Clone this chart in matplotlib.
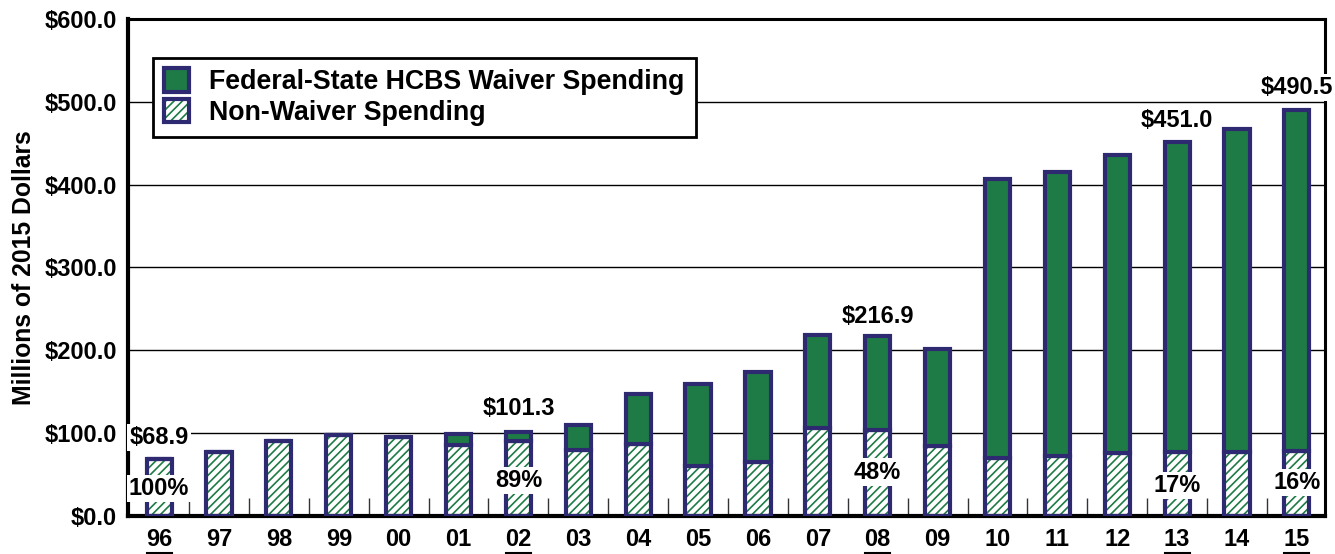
import matplotlib.pyplot as plt
import matplotlib.patches as mpatches
import matplotlib.transforms as mtransforms
import numpy as np

plt.rcParams['font.family'] = ['Liberation Sans', 'DejaVu Sans']
plt.rcParams['font.weight'] = 'bold'
plt.rcParams['hatch.linewidth'] = 1.2

years = ['96', '97', '98', '99', '00', '01', '02', '03', '04', '05',
         '06', '07', '08', '09', '10', '11', '12', '13', '14', '15']
total = [68.9, 77, 90, 98, 95.5, 99, 101.3, 110, 147, 159,
         174, 219, 216.9, 202, 407, 415, 436, 451.0, 467, 490.5]
non_waiver = [68.9, 77, 90, 98, 95.5, 86, 90.2, 80, 87, 60,
              65, 106, 104, 85, 70, 72, 76, 76.7, 77, 78.5]
underlined = ['96', '02', '08', '13', '15']

# labels: (index, text, y position)
value_labels = [(0, '$68.9', 95), (6, '$101.3', 130), (12, '$216.9', 241),
                (17, '$451.0', 478), (19, '$490.5', 517)]
pct_labels = [(0, '100%', 33), (6, '89%', 43), (12, '48%', 53),
              (17, '17%', 37), (19, '16%', 40)]

green = '#1e7b45'
navy = '#2e2a72'

waiver = np.array(total) - np.array(non_waiver)
x = np.arange(len(years))
w = 0.42

fig = plt.figure(figsize=(13.35, 5.54), dpi=100)
ax = fig.add_axes([0.0959, 0.0686, 0.8966, 0.8971])

# hatched non-waiver part
ax.bar(x, non_waiver, w, color='white', edgecolor=green, hatch='////',
       linewidth=0, zorder=2)
ax.bar(x, non_waiver, w, fill=False, edgecolor=navy, linewidth=3, zorder=3)
# waiver part on top
ax.bar(x, waiver, w, bottom=non_waiver, color=green, edgecolor=navy,
       linewidth=3, zorder=3)

ax.set_ylim(0, 600)
ax.set_xlim(-0.52, 19.47)
ax.set_yticks(np.arange(0, 601, 100))
ax.set_yticklabels([f'${v:.1f}' for v in np.arange(0, 601, 100)],
                   fontsize=17, fontweight='bold')
ax.set_xticks(x)
ax.set_xticklabels(years, fontsize=17, fontweight='bold')
ax.tick_params(axis='x', length=0, pad=9)
ax.tick_params(axis='y', direction='in', length=0, pad=8)
ax.set_xticks(x[:-1] + 0.5, minor=True)
ax.tick_params(axis='x', which='minor', direction='in', length=13,
               width=1, color='#333333')

# underline some year labels
trans = mtransforms.blended_transform_factory(ax.transData, ax.transAxes)
for i, yr in enumerate(years):
    if yr in underlined:
        ax.plot([i - 0.21, i + 0.21], [-0.074, -0.074], color='black',
                lw=1.5, transform=trans, clip_on=False)

ax.grid(axis='y', color='black', linewidth=1, zorder=0)
ax.set_axisbelow(True)
for s in ['left', 'bottom']:
    ax.spines[s].set_linewidth(3)
for s in ['top', 'right']:
    ax.spines[s].set_linewidth(2.2)

ax.set_ylabel('Millions of 2015 Dollars', fontsize=17.8, fontweight='bold',
              labelpad=6)

for i, t, y in value_labels + pct_labels:
    ax.text(i, y, t, ha='center', va='center', fontsize=17, fontweight='bold',
            zorder=10, clip_on=False,
            bbox=dict(facecolor='white', edgecolor='none', pad=1.5))

h1 = mpatches.Patch(facecolor=green, edgecolor=navy, linewidth=3)
h2a = mpatches.Patch(facecolor='white', edgecolor=green, hatch='////', linewidth=0)
h2b = mpatches.Patch(fill=False, edgecolor=navy, linewidth=3)
leg = ax.legend([h1, (h2a, h2b)],
                ['Federal-State HCBS Waiver Spending', 'Non-Waiver Spending'],
                loc='upper left', bbox_to_anchor=(0.021, 0.922),
                prop={'weight': 'bold', 'size': 19.3},
                frameon=True, fancybox=False, edgecolor='black',
                handlelength=0.95, handleheight=0.95, handletextpad=0.75,
                borderpad=0.4, labelspacing=0.15, borderaxespad=0)
leg.get_frame().set_linewidth(2)
leg.get_frame().set_alpha(1)
leg.set_zorder(20)

plt.savefig('out.png', dpi=100)
